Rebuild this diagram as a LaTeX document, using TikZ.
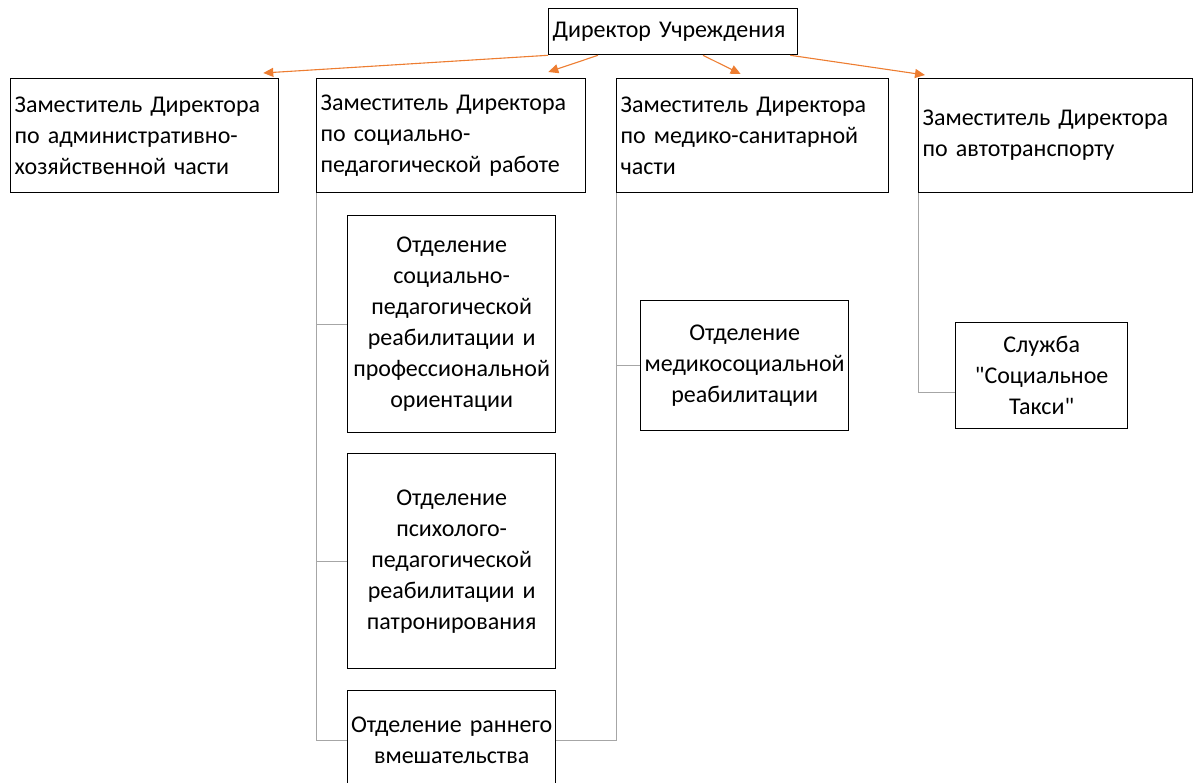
\documentclass[tikz,border=0pt]{standalone}
\usepackage{fontspec}
\setmainfont{Carlito}[WordSpace=0.75]
\usetikzlibrary{arrows.meta}
\definecolor{orangeline}{HTML}{ED7D31}
\definecolor{linkgray}{HTML}{A6A6A6}

\tikzset{
	box/.style={draw=black, line width=1.3pt, inner sep=4pt, font=\fontsize{24}{31}\selectfont},
	deputy/.style={box, anchor=north west, align=left, text width=#1, minimum height=114pt},
	unit/.style={box, anchor=north west, align=center, text width=#1},
	link/.style={draw=linkgray, line width=0.8pt},
	order/.style={draw=orangeline, line width=1.1pt, -{Triangle[length=10pt,width=9pt]}}
}

\begin{document}
\begin{tikzpicture}[x=1pt,y=-1pt]
	\useasboundingbox (0,0) rectangle (1198,783);
	\node[box, anchor=north west, align=left, text width=241pt, minimum height=46pt] (dir) at (548,8) {Директор Учреждения};
	\node[deputy=260pt] (dep1) at (10,78) {Заместитель Директора\\по административно-\\хозяйственной части};
	\node[deputy=261pt] (dep2) at (316,78) {Заместитель Директора\\по социально-\\педагогической работе};
	\node[deputy=264pt] (dep3) at (616,78) {Заместитель Директора\\по медико-санитарной\\части};
	\node[deputy=266pt] (dep4) at (918,78) {Заместитель Директора\\по автотранспорту};
	\node[unit=200pt, minimum height=217pt] (spr) at (347,215) {Отделение\\социально-\\педагогической\\реабилитации и\\профессиональной\\ориентации};
	\node[unit=200pt, minimum height=215pt] (ppr) at (347,453) {Отделение\\психолого-\\педагогической\\реабилитации и\\патронирования};
	\node[unit=206pt, inner xsep=1pt, minimum height=100pt] (early) at (347,690) {Отделение раннего\\вмешательства};
	\node[unit=200pt, minimum height=130pt] (med) at (640,300) {Отделение\\медикосоциальной\\реабилитации};
	\node[unit=164pt, minimum height=106pt] (taxi) at (955,322) {Служба\\\textquotedbl Социальное\\Такси\textquotedbl};
	\coordinate (taxiin) at ([yshift=-17pt]taxi.west);
	% orange arrows from the director
	\draw[order] ([xshift=0pt]dir.south west) -- ([xshift=-16pt,yshift=5pt]dep1.north east);
	\draw[order] ([xshift=50pt]dir.south west) -- ([xshift=-38pt,yshift=6pt]dep2.north east);
	\draw[order] ([xshift=155pt]dir.south west) -- ([xshift=-12pt,yshift=4pt]dep3.north);
	\draw[order] ([xshift=-8pt]dir.south east) -- ([xshift=7pt,yshift=3pt]dep4.north west);
	% gray links to the units
	\draw[link] (dep2.south west) -- (dep2.south west |- early.west) -- (early.west);
	\draw[link] (dep2.south west |- spr.west) -- (spr.west);
	\draw[link] (dep2.south west |- ppr.west) -- (ppr.west);
	\draw[link] (dep3.south west) -- (dep3.south west |- early.east) -- (early.east);
	\draw[link] (dep3.south west |- med.west) -- (med.west);
	\draw[link] (dep4.south west) -- (dep4.south west |- taxiin) -- (taxiin);
\end{tikzpicture}
\end{document}
